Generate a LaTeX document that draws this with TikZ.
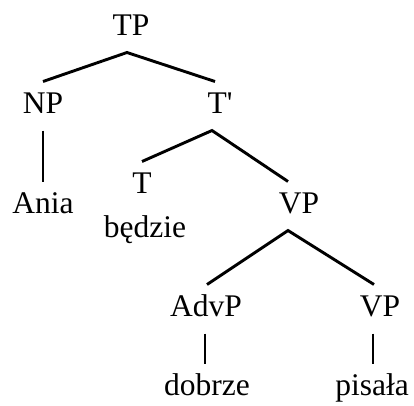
\documentclass[tikz,border=0pt]{standalone}
\usepackage{fontspec}
\setmainfont{Liberation Serif}
\usepackage{tikz}

\begin{document}
\begin{tikzpicture}[
        x=1pt, y=-1pt,
        cat/.style={anchor=base, inner sep=0pt, outer sep=10.5pt, text height=21pt, text depth=7pt, font=\fontsize{31.5}{36}\selectfont},
        branch/.style={draw, line width=2.9pt}
    ]
        \useasboundingbox (0,0) rectangle (414,405);

        \node [cat] (tp) at (131,35) {TP};
        \node [cat] (np) at (43,113) {NP};
        \node [cat] (tbar) at (220,113) {T\textquotesingle};
        \node [cat] (ania) at (43,213) {Ania};
        \node [cat] (t) at (142,193) {T};
        \node [cat] (bedzie) at (145,237) {będzie};
        \node [cat] (vp) at (299,213) {VP};
        \node [cat] (advp) at (206,316) {AdvP};
        \node [cat] (vpl) at (380,316) {VP};
        \node [cat] (dobrze) at (207,395) {dobrze};
        \node [cat] (pisala) at (372,395) {pisała};

        \path [branch] (np.north) -- ([xshift=-4pt]tp.south) -- ([xshift=-5pt]tbar.north);
        \path [branch] (np.south) -- (ania.north);
        \path [branch] (t.north) -- ([xshift=-8pt]tbar.south) -- ([xshift=-11pt]vp.north);
        \path [branch] ([xshift=1pt]advp.north) -- ([xshift=-11pt]vp.south) -- ([xshift=-6pt]vpl.north);
        \path [branch] ([xshift=-1pt]advp.south) -- ([xshift=-2pt]dobrze.north);
        \path [branch] ([xshift=-7pt]vpl.south) -- ([xshift=1pt]pisala.north);
    \end{tikzpicture}
\end{document}
